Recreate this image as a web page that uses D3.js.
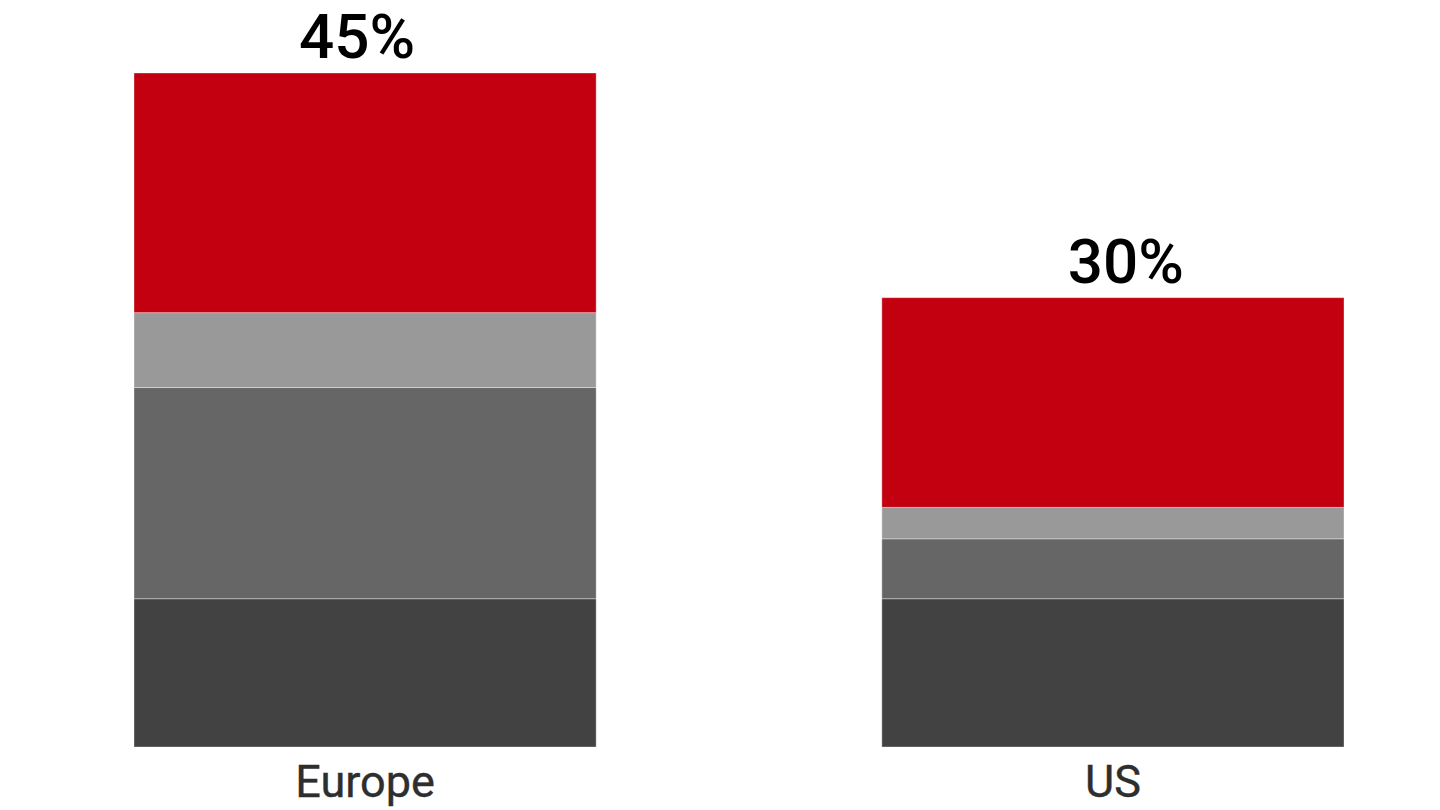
<!DOCTYPE html>
<html>
<head>
<meta charset="utf-8">
<script src="https://cdn.jsdelivr.net/npm/d3@7/dist/d3.min.js"></script>
<style>
  html, body { margin: 0; padding: 0; background: #ffffff; }
  svg { display: block; }
</style>
</head>
<body>
<svg id="chart" width="1440" height="810"></svg>
<script>
// ---- data ----
const categories = ["Europe", "US"];
const seriesKeys = ["s1", "s2", "s3", "s4"];           // bottom to top
const s1 = [9.9, 9.9];    // dark grey
const s2 = [14.1, 4.0];   // mid grey
const s3 = [5.0, 2.1];    // light grey
const s4 = [16.0, 14.0];  // red
const totalLabels = ["45%", "30%"];

// ---- styles ----
const colors = { s1: "#424242", s2: "#666666", s3: "#999999", s4: "#c3000f" };

const rows = categories.map((c, i) => ({ cat: c, s1: s1[i], s2: s2[i], s3: s3[i], s4: s4[i] }));
const stack = d3.stack().keys(seriesKeys)(rows);
const totals = rows.map(r => r.s1 + r.s2 + r.s3 + r.s4);

const svg = d3.select("#chart");

const x = d3.scaleBand().domain(categories).range([134, 1344]).paddingInner(0.382).paddingOuter(0);
const y = d3.scaleLinear().domain([0, d3.max(totals)]).range([747, 73]);

svg.append("g").selectAll("g")
  .data(stack).join("g")
  .attr("fill", d => colors[d.key])
  .selectAll("rect")
  .data(d => d).join("rect")
  .attr("x", d => x(d.data.cat))
  .attr("width", x.bandwidth())
  .attr("y", d => y(d[1]))
  .attr("height", d => y(d[0]) - y(d[1]))
  .attr("stroke", "rgba(255,255,255,0.35)")
  .attr("stroke-width", 1);

// total labels above bars
const labelShift = [-8, 13];
svg.append("g").selectAll("text")
  .data(categories).join("text")
  .attr("x", (c, i) => x(c) + x.bandwidth() / 2 + labelShift[i])
  .attr("y", (c, i) => y(totals[i]) - 15)
  .attr("text-anchor", "middle")
  .attr("font-family", "Roboto, sans-serif")
  .attr("font-weight", 500)
  .attr("font-size", 62)
  .attr("fill", "#000000")
  .text((c, i) => totalLabels[i]);

// category axis
const xAxis = svg.append("g")
  .attr("transform", "translate(0,747)")
  .call(d3.axisBottom(x).tickSize(0).tickPadding(18));
xAxis.select(".domain").remove();
xAxis.selectAll("text")
  .attr("font-family", "Roboto, sans-serif")
  .attr("font-weight", 400)
  .attr("font-size", 45)
  .attr("fill", "#2e2e2e")
  .attr("stroke", "#2e2e2e")
  .attr("stroke-width", 0.4)
  .attr("dy", "0.71em");
</script>
</body>
</html>
